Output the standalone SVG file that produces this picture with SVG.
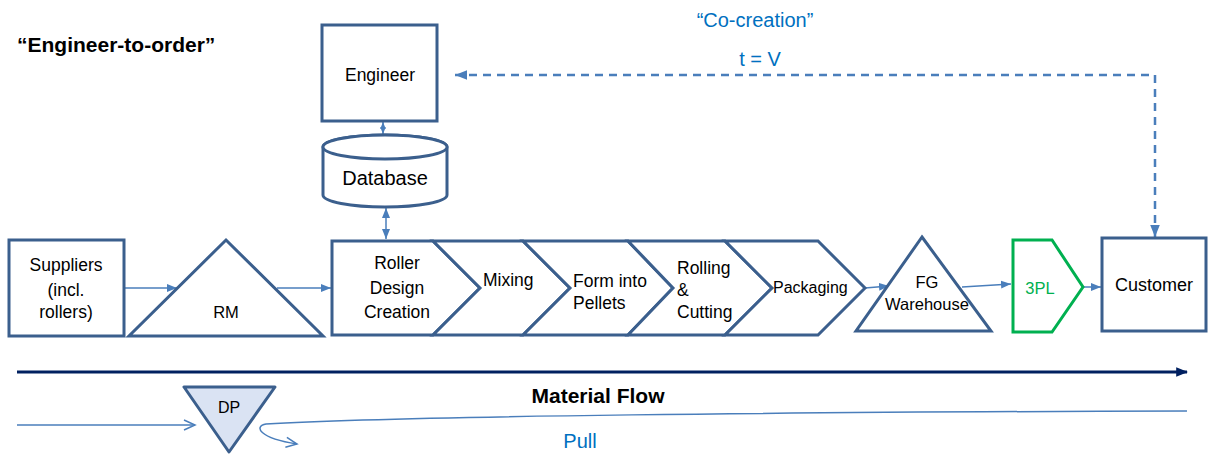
<svg xmlns="http://www.w3.org/2000/svg" width="1208" height="455" viewBox="0 0 1208 455">
  <style>
    .node { fill: #ffffff; stroke: #3b5f8d; stroke-width: 3; stroke-linejoin: miter; }
    .green { fill: #ffffff; stroke: #00b050; stroke-width: 3; }
    .dp { fill: #dae3f3; stroke: #3b5f8d; stroke-width: 3; stroke-linejoin: round; }
    .lbl { font-family: "Liberation Sans", Arial, sans-serif; font-size: 17.5px; fill: #000000; }
    .mid { text-anchor: middle; }
    .big { font-size: 20px; }
    .head { font-size: 21px; font-weight: bold; }
    .blue { fill: #0070c0; }
    .conn { fill: none; stroke: #4a7ebb; stroke-width: 1.5; }
    .dash { fill: none; stroke: #4a7ebb; stroke-width: 2.5; stroke-dasharray: 8 6; }
    .flow { fill: none; stroke: #002060; stroke-width: 3; }
  </style>
  <defs>
    <marker id="tri" markerUnits="userSpaceOnUse" markerWidth="10" markerHeight="10" viewBox="0 0 10 10" refX="10" refY="5" orient="auto-start-reverse">
      <path d="M0,1 L10,5 L0,9 Z" fill="#4a7ebb"/>
    </marker>
    <marker id="triS" markerUnits="userSpaceOnUse" markerWidth="7" markerHeight="7" viewBox="0 0 10 10" refX="10" refY="5" orient="auto-start-reverse">
      <path d="M0,1 L10,5 L0,9 Z" fill="#4a7ebb"/>
    </marker>
    <marker id="triD" markerUnits="userSpaceOnUse" markerWidth="12" markerHeight="12" viewBox="0 0 10 10" refX="10" refY="5" orient="auto-start-reverse">
      <path d="M0,1 L10,5 L0,9 Z" fill="#4a7ebb"/>
    </marker>
    <marker id="navy" markerUnits="userSpaceOnUse" markerWidth="12" markerHeight="12" viewBox="0 0 10 10" refX="9" refY="5" orient="auto">
      <path d="M0,1 L10,5 L0,9 Z" fill="#002060"/>
    </marker>
    <marker id="open" markerUnits="userSpaceOnUse" markerWidth="14" markerHeight="14" viewBox="0 0 14 14" refX="12" refY="7" orient="auto">
      <path d="M1,2 L12,7 L1,12" fill="none" stroke="#4a7ebb" stroke-width="1.5"/>
    </marker>
  </defs>

  <!-- headings -->
  <text class="lbl head" x="17" y="52">“Engineer-to-order”</text>
  <text class="lbl big blue mid" x="755" y="27">“Co-creation”</text>
  <text class="lbl big blue mid" x="760" y="66">t = V</text>

  <g id="connectors">
    <path class="conn" d="M124,288 L177,288" marker-end="url(#tri)"/>
    <path class="conn" d="M277,288 L331,288" marker-end="url(#tri)"/>
    <path class="conn" d="M865,288 L889,286" marker-end="url(#tri)"/>
    <path class="conn" d="M962,287 L1011,284" marker-end="url(#tri)"/>
    <path class="conn" d="M1083,287 L1101,287" marker-end="url(#tri)"/>
    <path class="conn" d="M383,122 L383,134" marker-start="url(#triS)" marker-end="url(#triS)"/>
    <path class="conn" d="M386,208 L386,239" marker-start="url(#tri)" marker-end="url(#tri)"/>
    <path class="dash" d="M455,75 L1155,75 L1155,237" marker-start="url(#triD)" marker-end="url(#triD)"/>
    <path class="flow" d="M17,372 L1187,372" marker-end="url(#navy)"/>
    <path class="conn" d="M17,425 L195,425" marker-end="url(#open)"/>
    <path class="conn" d="M1187,411 C 800,412 400,416 266,424 C 254,426 258,438 297,444" marker-end="url(#open)"/>
  </g>

  <g id="engineer">
    <rect class="node" x="322" y="25" width="115" height="96"/>
    <text class="lbl mid" x="380" y="81">Engineer</text>
  </g>

  <g id="database">
    <path class="node" d="M323,147 L323,195 A62,12 0 0 0 447,195 L447,147 A62,12 0 0 0 323,147 Z"/>
    <ellipse class="node" cx="385" cy="147" rx="62" ry="12"/>
    <text class="lbl big mid" x="385" y="185">Database</text>
  </g>

  <g id="suppliers">
    <rect class="node" x="9" y="240" width="115" height="96"/>
    <text class="lbl mid" x="66" y="271">Suppliers</text>
    <text class="lbl mid" x="66" y="296">(incl.</text>
    <text class="lbl mid" x="66" y="318">rollers)</text>
  </g>

  <g id="rm">
    <polygon class="node" points="226,240 323,336 129,336"/>
    <text class="lbl mid" x="226" y="318" style="font-size:16.5px">RM</text>
  </g>

  <g id="roller-design">
    <polygon class="node" points="332,241 433,241 480,288 433,335 332,335"/>
    <text class="lbl mid" x="397" y="269">Roller</text>
    <text class="lbl mid" x="397" y="294">Design</text>
    <text class="lbl mid" x="397" y="318">Creation</text>
  </g>

  <g id="mixing">
    <polygon class="node" points="433,241 523,241 570,288 523,335 433,335 480,288"/>
    <text class="lbl" x="483" y="286">Mixing</text>
  </g>

  <g id="form-pellets">
    <polygon class="node" points="523,241 628,241 673,288 628,335 523,335 570,288"/>
    <text class="lbl" x="573" y="287">Form into</text>
    <text class="lbl" x="573" y="309">Pellets</text>
  </g>

  <g id="rolling-cutting">
    <polygon class="node" points="628,241 725,241 772,288 725,335 628,335 673,288"/>
    <text class="lbl" x="677" y="274">Rolling</text>
    <text class="lbl" x="677" y="296">&amp;</text>
    <text class="lbl" x="677" y="318">Cutting</text>
  </g>

  <g id="packaging">
    <polygon class="node" points="725,241 818,241 865,288 818,335 725,335 772,288"/>
    <text class="lbl" x="773" y="293" style="font-size:16px">Packaging</text>
  </g>

  <g id="fg-warehouse">
    <polygon class="node" points="922,237 991,331 856,331"/>
    <text class="lbl mid" x="927" y="288" style="font-size:16.5px">FG</text>
    <text class="lbl mid" x="927" y="310" style="font-size:16.5px">Warehouse</text>
  </g>

  <g id="3pl">
    <polygon class="green" points="1013,240 1052,240 1083,287 1052,332 1013,332"/>
    <text class="lbl mid" x="1040" y="294" style="font-size:16.5px; fill:#00b050">3PL</text>
  </g>

  <g id="customer">
    <rect class="node" x="1102" y="238" width="104" height="93"/>
    <text class="lbl mid" x="1154" y="291" style="font-size:18px">Customer</text>
  </g>

  <text class="lbl head mid" x="598" y="403">Material Flow</text>

  <g id="dp">
    <polygon class="dp" points="184,387 275,387 229,452"/>
    <text class="lbl mid" x="229" y="413" style="font-size:16px">DP</text>
  </g>

  <text class="lbl big blue mid" x="580" y="448">Pull</text>
</svg>
